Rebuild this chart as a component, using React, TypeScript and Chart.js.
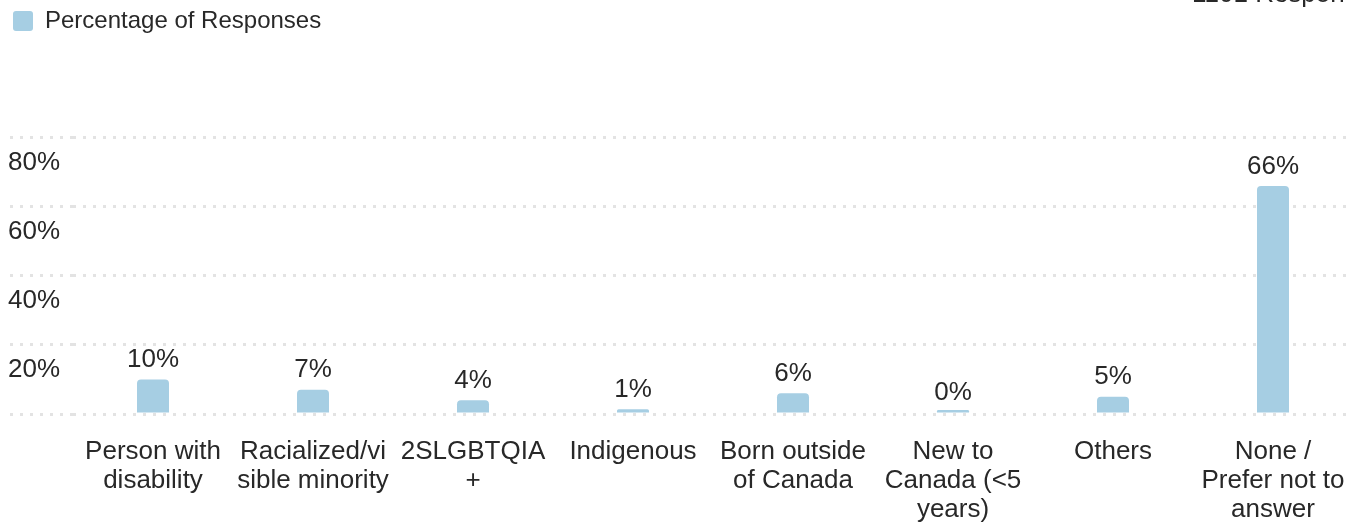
import React, { useEffect, useRef } from "react";
import { Chart, registerables } from "chart.js";

Chart.register(...registerables);

const categories: (string | string[])[] = [
  ["Person with", "disability"],
  ["Racialized/vi", "sible minority"],
  ["2SLGBTQIA", "+"],
  "Indigenous",
  ["Born outside", "of Canada"],
  ["New to", "Canada (<5", "years)"],
  "Others",
  ["None /", "Prefer not to", "answer"],
];

const responsePct: number[] = [10, 7, 4, 1.4, 6, 0.4, 5, 66];

const yTickValues: number[] = [0, 20, 40, 60, 80];

const seriesName = "Percentage of Responses";
const cornerNote = "1101 Respondents";

const FONT = '"Liberation Sans", Arial, Helvetica, sans-serif';
const TEXT = "#282828";
const BAR = "#a6cee3";
const GRID = "#e3e3e3";

const CANVAS_W = 1345;
const CANVAS_H = 524;

const legendGap = {
  id: "legendGap",
  beforeInit(chart: any) {
    const legend = chart.legend;
    if (!legend) return;
    const fit = legend.fit;
    legend.fit = function () {
      fit.call(this);
      this.height += 94.5;
    };
  },
};

const valueLabels = {
  id: "valueLabels",
  afterDatasetsDraw(chart: any) {
    const { ctx } = chart;
    const meta = chart.getDatasetMeta(0);
    const y = chart.scales.y;
    ctx.save();
    ctx.font = `26px ${FONT}`;
    ctx.fillStyle = TEXT;
    ctx.textAlign = "center";
    ctx.textBaseline = "middle";
    meta.data.forEach((bar: any, i: number) => {
      const v = responsePct[i];
      ctx.fillText(`${Math.round(v)}%`, bar.x, y.getPixelForValue(v) - 19.5);
    });
    ctx.restore();
  },
};

export default function App() {
  const ref = useRef<HTMLCanvasElement | null>(null);

  useEffect(() => {
    document.documentElement.style.overflow = "hidden";
    document.body.style.overflow = "hidden";
    if (!ref.current) return;
    const chart = new Chart(ref.current, {
      type: "bar",
      data: {
        labels: categories,
        datasets: [
          {
            label: seriesName,
            data: responsePct,
            backgroundColor: BAR,
            borderWidth: 0,
            borderRadius: 4,
            minBarLength: 4,
            barPercentage: 0.2,
            categoryPercentage: 1,
          },
        ],
      },
      options: {
        animation: false,
        responsive: false,
        maintainAspectRatio: false,
        devicePixelRatio: 1,
        layout: { padding: { top: 4, left: 0, right: 0, bottom: 0 } },
        plugins: {
          legend: {
            position: "top",
            align: "start",
            labels: {
              boxWidth: 20,
              boxHeight: 20,
              padding: 5,
              useBorderRadius: true,
              borderRadius: 3,
              color: TEXT,
              font: { family: FONT, size: 24 },
            },
          },
          tooltip: { enabled: false },
          title: { display: false },
        },
        scales: {
          x: {
            offset: true,
            grid: { display: false, drawTicks: true, tickLength: 23 },
            border: { display: false },
            ticks: {
              autoSkip: false,
              maxRotation: 0,
              minRotation: 0,
              padding: 0,
              color: TEXT,
              font: { family: FONT, size: 26, lineHeight: "29px" },
            },
          },
          y: {
            min: 0,
            max: 80,
            afterFit: (scale: any) => {
              scale.width = 65;
            },
            afterBuildTicks: (scale: any) => {
              scale.ticks = yTickValues.map((v) => ({ value: v }));
            },
            border: { display: false, dash: [3, 7] },
            grid: {
              color: GRID,
              lineWidth: 3,
              drawTicks: true,
              tickLength: 63,
              tickColor: GRID,
              tickWidth: 3,
              tickBorderDash: [3, 7],
            },
            ticks: {
              stepSize: 20,
              crossAlign: "far",
              labelOffset: 25,
              padding: 3,
              color: TEXT,
              font: { family: FONT, size: 26 },
              callback: (v: any) => (Number(v) === 0 ? "" : `${v}%`),
            },
          },
        },
      },
      plugins: [legendGap, valueLabels],
    });
    return () => chart.destroy();
  }, []);

  return (
    <>
      <div
        style={{
          position: "fixed",
          left: 8,
          top: 0,
          width: CANVAS_W,
          height: CANVAS_H,
        }}
      >
        <canvas
          ref={ref}
          width={CANVAS_W}
          height={CANVAS_H}
          style={{ width: CANVAS_W, height: CANVAS_H, display: "block" }}
        />
      </div>
      <div
        style={{
          position: "fixed",
          left: 1192,
          top: -20,
          font: `26px ${FONT}`,
          lineHeight: "26px",
          color: TEXT,
          whiteSpace: "nowrap",
        }}
      >
        {cornerNote}
      </div>
    </>
  );
}
